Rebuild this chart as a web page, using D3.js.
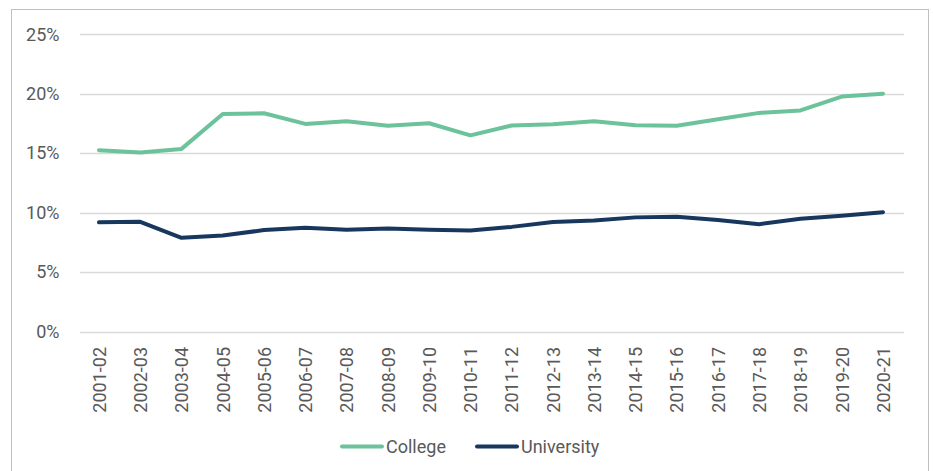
<!DOCTYPE html>
<html><head><meta charset="utf-8">
<script src="https://cdn.jsdelivr.net/npm/d3@7"></script>
<style>
html,body{margin:0;padding:0;background:#fff;}
svg{display:block;font-family:Roboto, "Liberation Sans", sans-serif;}
</style></head>
<body><svg id="c" width="933" height="471"></svg>
<script>
const categories = ["2001-02","2002-03","2003-04","2004-05","2005-06","2006-07","2007-08","2008-09","2009-10","2010-11","2011-12","2012-13","2013-14","2014-15","2015-16","2016-17","2017-18","2018-19","2019-20","2020-21"];
const college = [15.25,15.06,15.36,18.3,18.36,17.46,17.69,17.3,17.52,16.5,17.33,17.44,17.69,17.35,17.3,17.86,18.39,18.6,19.76,20.0];
const university = [9.18,9.23,7.88,8.08,8.53,8.72,8.55,8.67,8.55,8.5,8.8,9.22,9.34,9.6,9.65,9.37,9.03,9.48,9.73,10.04];
const yTicks = [0,5,10,15,20,25];
const seriesNames = ["College","University"];
const colors = ["#6cc29a","#17375e"];

const svg = d3.select("#c");
svg.append("rect").attr("x",11.5).attr("y",9.5).attr("width",917).attr("height",470)
  .attr("fill","#fff").attr("stroke","#bfbfbf").attr("stroke-width",1);

const x = d3.scalePoint().domain(categories).range([99,883]);
const y = d3.scaleLinear().domain([0,25]).range([331.5,34.3]);

const grid = svg.append("g");
grid.selectAll("line").data(yTicks).join("line")
  .attr("x1",80).attr("x2",904)
  .attr("y1",d=>Math.round(y(d))+0.5).attr("y2",d=>Math.round(y(d))+0.5)
  .attr("stroke","#d9d9d9").attr("stroke-width",1.3);

const yAxis = d3.axisLeft(y).tickValues(yTicks).tickFormat(d=>d+"%").tickSize(0).tickPadding(0);
const ya = svg.append("g").attr("transform","translate(59.5,0)").call(yAxis);
ya.select(".domain").remove();
ya.selectAll("text").attr("font-size",18).attr("fill","#595959").attr("font-family","Roboto, sans-serif");

const xAxis = d3.axisBottom(x).tickSize(0).tickPadding(0);
const xa = svg.append("g").attr("transform","translate(0,331)").call(xAxis);
xa.select(".domain").remove();
xa.selectAll("text").attr("font-size",18).attr("fill","#595959").attr("font-family","Roboto, sans-serif")
  .attr("text-anchor","end").attr("dy","0.35em")
  .attr("transform","translate(0,16) rotate(-90)").attr("x",0).attr("y",0);

const line = d3.line().x((d,i)=>x(categories[i])).y(d=>y(d));
[college, university].forEach((s,k)=>{
  svg.append("path").datum(s).attr("d",line).attr("fill","none")
    .attr("stroke",colors[k]).attr("stroke-width",4).attr("stroke-linejoin","round").attr("stroke-linecap","round");
});

const legX = [340,475];
seriesNames.forEach((n,k)=>{
  svg.append("line").attr("x1",legX[k]+2).attr("x2",legX[k]+42).attr("y1",446.5).attr("y2",446.5)
    .attr("stroke",colors[k]).attr("stroke-width",4).attr("stroke-linecap","round");
  svg.append("text").attr("x",legX[k]+46).attr("y",446.5).attr("dy","0.35em")
    .attr("font-size",18).attr("fill","#595959").text(n);
});
</script></body></html>
